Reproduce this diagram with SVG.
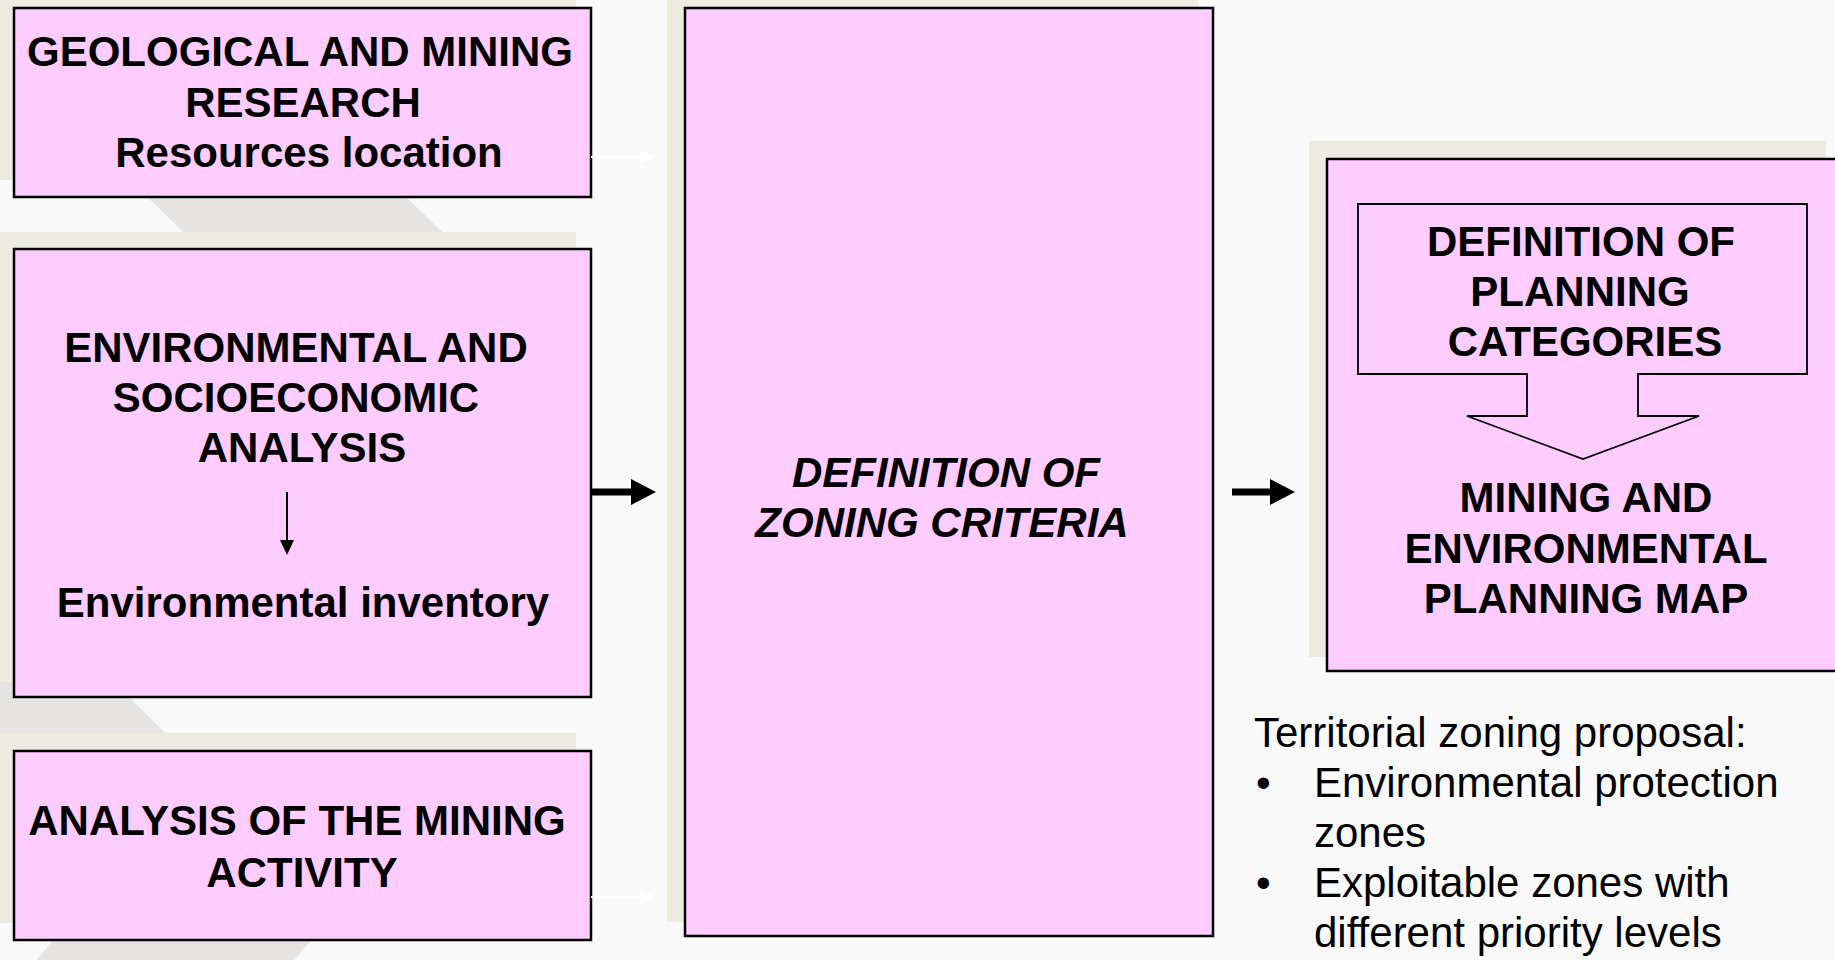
<svg xmlns="http://www.w3.org/2000/svg" width="1835" height="960" viewBox="0 0 1835 960">
<style>
.bg{fill:#f9f9f9}
.stripe{fill:#e5e4e3}
.shadow{fill:#eeece1}
.box{fill:#ffccff;stroke:#000;stroke-width:2.5}
.t{font-family:"Liberation Sans",Arial,sans-serif;font-size:42px;fill:#000}
.b{font-weight:bold;text-anchor:middle}
.i{font-style:italic}
</style>
<defs>
<marker id="wh" markerWidth="8" markerHeight="8" refX="1" refY="4" orient="auto" markerUnits="strokeWidth"><path d="M0,0 L8,4 L0,8 z" fill="#fff"/></marker>
</defs>
<rect class="bg" x="0" y="0" width="1835" height="960"/>
<g id="background-stripes">
<polygon class="stripe" points="99,150 358,150 471,260 212,260"/>
<polygon class="stripe" points="0,600 32,600 165,733 0,733"/>
<polygon class="stripe" points="62,930 320,930 290,965 32,965"/>
</g>
<g id="shadows">
<rect class="shadow" x="0" y="-10" width="576" height="190"/>
<rect class="shadow" x="0" y="232" width="576" height="450"/>
<rect class="shadow" x="0" y="733" width="576" height="190"/>
<rect class="shadow" x="667" y="-10" width="531" height="932"/>
<rect class="shadow" x="1309" y="141" width="517" height="516"/>
</g>
<g id="geological">
<rect class="box" x="14" y="8" width="577" height="189"/>
<text class="t b" x="300" y="66">GEOLOGICAL AND MINING</text>
<text class="t b" x="303" y="117">RESEARCH</text>
<text class="t b" x="309" y="167">Resources location</text>
</g>
<g id="environmental">
<rect class="box" x="14" y="249" width="577" height="448"/>
<text class="t b" x="296" y="362">ENVIRONMENTAL AND</text>
<text class="t b" x="296" y="412">SOCIOECONOMIC</text>
<text class="t b" x="302" y="462">ANALYSIS</text>
<line x1="287" y1="492" x2="287" y2="541" stroke="#000" stroke-width="2"/>
<polygon points="280,540 294,540 287,555" fill="#000"/>
<text class="t b" x="303" y="617">Environmental inventory</text>
</g>
<g id="mining-activity">
<rect class="box" x="14" y="751" width="577" height="189"/>
<text class="t b" x="297" y="835">ANALYSIS OF THE MINING</text>
<text class="t b" x="302" y="887">ACTIVITY</text>
</g>
<g id="zoning-criteria">
<rect class="box" x="685" y="8" width="528" height="928"/>
<text class="t b i" x="946" y="487">DEFINITION OF</text>
<text class="t b i" x="942" y="537">ZONING CRITERIA</text>
</g>
<g id="planning-map">
<rect class="box" x="1327" y="159" width="530" height="512"/>
<polygon points="1358,204 1807,204 1807,374 1638,374 1638,416 1699,416 1583,459 1467,416 1527,416 1527,374 1358,374" fill="#ffccff" stroke="#000" stroke-width="1.8"/>
<text class="t b" x="1581" y="256">DEFINITION OF</text>
<text class="t b" x="1580" y="306">PLANNING</text>
<text class="t b" x="1585" y="356">CATEGORIES</text>
<text class="t b" x="1586" y="512">MINING AND</text>
<text class="t b" x="1586" y="563">ENVIRONMENTAL</text>
<text class="t b" x="1586" y="613">PLANNING MAP</text>
</g>
<g id="proposal">
<text class="t" x="1254" y="747">Territorial zoning proposal:</text>
<text class="t" x="1256" y="797">•</text>
<text class="t" x="1314" y="797">Environmental protection</text>
<text class="t" x="1314" y="847">zones</text>
<text class="t" x="1256" y="897">•</text>
<text class="t" x="1314" y="897">Exploitable zones with</text>
<text class="t" x="1314" y="947">different priority levels</text>
</g>
<g id="connectors">
<line x1="591" y1="157" x2="641" y2="157" stroke="#fff" stroke-width="2"/>
<polygon points="640,150 655,157 640,164" fill="#fff"/>
<line x1="591" y1="897" x2="641" y2="897" stroke="#fff" stroke-width="2"/>
<polygon points="640,890 655,897 640,904" fill="#fff"/>
<line x1="591" y1="492" x2="633" y2="492" stroke="#000" stroke-width="7"/>
<polygon points="631,479 656,492 631,505" fill="#000"/>
<line x1="1232" y1="492" x2="1272" y2="492" stroke="#000" stroke-width="7"/>
<polygon points="1270,479 1295,492 1270,505" fill="#000"/>
</g>
</svg>
